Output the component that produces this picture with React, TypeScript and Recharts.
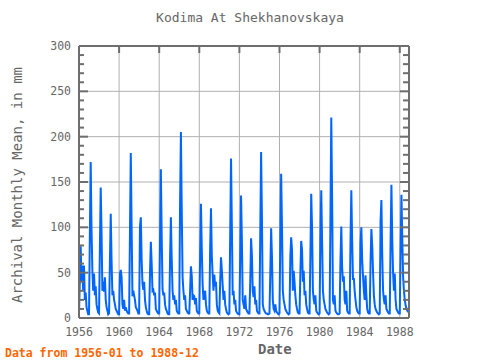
import { LineChart, Line, XAxis, YAxis, CartesianGrid } from 'recharts'

const startYear = 1956

// monthly means, mm, Jan..Dec
const y1956 = [5, 42, 79, 40, 58, 30, 58, 20, 28, 12, 8, 4]
const y1957 = [4, 93, 172, 98, 53, 30, 49, 25, 35, 15, 10, 6]
const y1958 = [5, 76, 144, 94, 30, 40, 29, 45, 20, 12, 8, 4]
const y1959 = [5, 62, 115, 63, 25, 30, 20, 15, 10, 8, 6, 4]
const y1960 = [4, 49, 53, 45, 15, 10, 20, 8, 12, 8, 6, 5]
const y1961 = [5, 93, 182, 100, 24, 30, 25, 20, 12, 10, 8, 5]
const y1962 = [5, 101, 111, 64, 38, 31, 40, 20, 12, 8, 5, 4]
const y1963 = [4, 50, 84, 60, 30, 31, 25, 28, 10, 8, 6, 5]
const y1964 = [5, 86, 164, 90, 32, 25, 28, 15, 10, 8, 5, 4]
const y1965 = [4, 65, 111, 65, 30, 20, 25, 15, 20, 8, 6, 5]
const y1966 = [5, 128, 205, 119, 45, 30, 20, 25, 10, 8, 6, 5]
const y1967 = [5, 30, 57, 46, 20, 25, 24, 15, 22, 8, 6, 5]
const y1968 = [5, 68, 126, 75, 37, 20, 25, 30, 15, 8, 6, 5]
const y1969 = [5, 77, 121, 68, 48, 30, 48, 35, 40, 15, 8, 6]
const y1970 = [5, 40, 67, 53, 36, 20, 30, 15, 10, 6, 5, 4]
const y1971 = [5, 93, 176, 101, 25, 30, 15, 20, 8, 6, 5, 4]
const y1972 = [4, 69, 135, 85, 20, 15, 10, 25, 10, 8, 6, 5]
const y1973 = [5, 40, 88, 69, 30, 23, 35, 15, 20, 8, 6, 5]
const y1974 = [5, 94, 183, 110, 15, 10, 8, 6, 5, 5, 4, 4]
const y1975 = [5, 50, 99, 68, 20, 10, 8, 15, 8, 6, 5, 4]
const y1976 = [5, 87, 159, 100, 30, 20, 15, 10, 8, 6, 5, 4]
const y1977 = [5, 68, 89, 75, 30, 52, 40, 25, 15, 10, 6, 5]
const y1978 = [5, 50, 85, 75, 40, 52, 25, 30, 15, 10, 6, 5]
const y1979 = [5, 69, 137, 99, 30, 20, 15, 25, 8, 6, 5, 4]
const y1980 = [5, 90, 141, 85, 30, 20, 15, 10, 8, 6, 5, 4]
const y1981 = [5, 112, 221, 132, 20, 15, 25, 8, 6, 5, 4, 4]
const y1982 = [5, 64, 101, 56, 40, 46, 20, 15, 30, 8, 6, 5]
const y1983 = [5, 85, 141, 85, 42, 44, 30, 20, 12, 8, 6, 5]
const y1984 = [5, 83, 100, 64, 46, 30, 20, 47, 25, 10, 6, 5]
const y1985 = [5, 61, 98, 80, 51, 25, 15, 10, 8, 6, 5, 4]
const y1986 = [5, 107, 130, 69, 30, 20, 15, 25, 10, 8, 6, 5]
const y1987 = [5, 85, 147, 86, 49, 30, 49, 20, 10, 8, 6, 5]
const y1988 = [5, 78, 136, 88, 45, 30, 20, 14, 10, 8, 7, 7]

const years = [
  y1956, y1957, y1958, y1959, y1960, y1961, y1962, y1963, y1964, y1965, y1966,
  y1967, y1968, y1969, y1970, y1971, y1972, y1973, y1974, y1975, y1976, y1977,
  y1978, y1979, y1980, y1981, y1982, y1983, y1984, y1985, y1986, y1987, y1988,
]

const yearLabels = [1956, 1960, 1964, 1968, 1972, 1976, 1980, 1984, 1988]
const yearMarks = [
  1957, 1958, 1959, 1960, 1961, 1962, 1963, 1964, 1965, 1966, 1967, 1968, 1969,
  1970, 1971, 1972, 1973, 1974, 1975, 1976, 1977, 1978, 1979, 1980, 1981, 1982,
  1983, 1984, 1985, 1986, 1987, 1988,
]
const gridValues = [50, 100, 150, 200, 250]
const valueMarks = [
  0, 10, 20, 30, 40, 50, 60, 70, 80, 90, 100, 110, 120, 130, 140, 150, 160, 170,
  180, 190, 200, 210, 220, 230, 240, 250, 260, 270, 280, 290, 300,
]

const data = years.flatMap((row, yi) =>
  row.map((v, m) => ({ t: startYear + yi + m / 12, v })),
)

const axisColor = '#6e6e6e'
const gridColor = '#b0b0b0'
const textColor = '#666'
const font = '"DejaVu Sans Mono", monospace'

const LeftTick = (p: any) => {
  const v = p.payload.value
  const major = v % 50 === 0
  const ax = p.x + 8
  return (
    <g>
      <line x1={ax} x2={ax + (major ? 9 : 5)} y1={p.y} y2={p.y} stroke={axisColor} strokeWidth={2} />
      {major && (
        <text x={p.x} y={p.y} dy={4} textAnchor="end" fill={textColor} fontSize={11.5} fontFamily={font}>
          {v}
        </text>
      )}
    </g>
  )
}

const RightTick = (p: any) => {
  const major = p.payload.value % 50 === 0
  return <line x1={p.x} x2={p.x - (major ? 9 : 6)} y1={p.y} y2={p.y} stroke={axisColor} strokeWidth={2} />
}

const TopTick = (p: any) => (
  <line x1={p.x} x2={p.x} y1={p.y} y2={p.y + 7} stroke={axisColor} strokeWidth={2} />
)

export default function App() {
  return (
    <div style={{ position: 'absolute', left: 0, top: 0, width: 480, height: 360, background: '#fff' }}>
      <LineChart
        width={480}
        height={360}
        data={data}
        margin={{ top: 45, right: 70, bottom: 12, left: 0 }}
      >
        <CartesianGrid
          xAxisId="b"
          yAxisId="l"
          stroke={gridColor}
          strokeWidth={1}
          verticalValues={yearMarks}
          horizontalValues={gridValues}
        />
        <XAxis
          xAxisId="b"
          dataKey="t"
          type="number"
          domain={[1956, 1988.92]}
          allowDataOverflow
          ticks={yearLabels}
          height={30}
          tickLine={false}
          tickSize={0}
          tickMargin={10}
          axisLine={{ stroke: axisColor, strokeWidth: 2 }}
          tick={{ fill: textColor, fontSize: 11.5, fontFamily: font }}
        />
        <XAxis
          xAxisId="top"
          orientation="top"
          dataKey="t"
          type="number"
          domain={[1956, 1988.92]}
          allowDataOverflow
          ticks={yearMarks}
          height={1}
          tickLine={false}
          tickSize={0}
          tickMargin={0}
          axisLine={{ stroke: axisColor, strokeWidth: 2 }}
          tick={<TopTick />}
        />
        <YAxis
          yAxisId="l"
          domain={[0, 300]}
          ticks={valueMarks}
          width={79}
          tickLine={false}
          tickSize={0}
          tickMargin={8}
          interval={0}
          axisLine={{ stroke: axisColor, strokeWidth: 2 }}
          tick={<LeftTick />}
        />
        <YAxis
          yAxisId="r"
          orientation="right"
          domain={[0, 300]}
          ticks={valueMarks}
          width={1}
          tickLine={false}
          tickSize={0}
          tickMargin={0}
          interval={0}
          axisLine={{ stroke: axisColor, strokeWidth: 2 }}
          tick={<RightTick />}
        />
        <Line
          xAxisId="b"
          yAxisId="l"
          type="linear"
          dataKey="v"
          stroke="#0066ff"
          strokeWidth={2}
          dot={false}
          isAnimationActive={false}
        />
        <Line
          xAxisId="top"
          yAxisId="r"
          type="linear"
          dataKey="v"
          stroke="none"
          dot={false}
          activeDot={false}
          legendType="none"
          isAnimationActive={false}
        />
      </LineChart>
      <div style={{ position: 'absolute', left: 0, width: 500, top: 11, lineHeight: '14px', textAlign: 'center', color: textColor, fontFamily: font, fontSize: 13 }}>
        Kodima At Shekhanovskaya
      </div>
      <div style={{ position: 'absolute', left: 17, top: 185, width: 0, height: 0 }}>
        <div style={{ position: 'absolute', transform: 'translate(-50%, -50%) rotate(-90deg)', whiteSpace: 'nowrap', lineHeight: '14px', color: textColor, fontFamily: font, fontSize: 14 }}>
          Archival Monthly Mean, in mm
        </div>
      </div>
      <div style={{ position: 'absolute', left: 258, top: 343, lineHeight: '12px', color: textColor, fontFamily: font, fontSize: 14, fontWeight: 'bold' }}>
        Date
      </div>
      <div style={{ position: 'absolute', left: 5, top: 347, lineHeight: '12px', color: '#ff6600', fontFamily: font, fontSize: 11.5, fontWeight: 'bold' }}>
        Data from 1956-01 to 1988-12
      </div>
    </div>
  )
}
